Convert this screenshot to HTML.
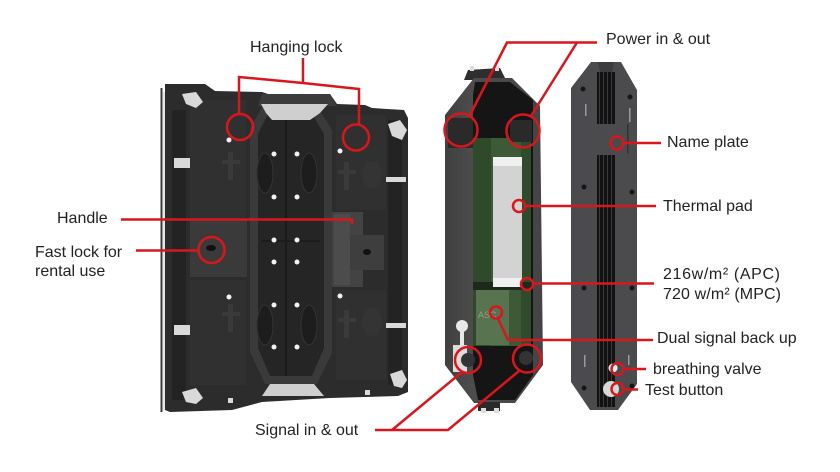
<!DOCTYPE html>
<html>
<head>
<meta charset="utf-8">
<style>
html,body{margin:0;padding:0;background:#fff;}
svg{display:block;}
text{font-family:"Liberation Sans",Arial,sans-serif;font-size:16px;fill:#222;}
</style>
</head>
<body>
<svg width="840" height="472" viewBox="0 0 840 472" xmlns="http://www.w3.org/2000/svg">
<defs>
  <pattern id="fins" x="0" y="0" width="4" height="10" patternUnits="userSpaceOnUse">
    <rect width="4" height="10" fill="#121212"/>
    <rect x="3" width="1" height="10" fill="#3a3a3a"/>
  </pattern>
  <linearGradient id="shell" x1="0" x2="1" y1="0" y2="0">
    <stop offset="0" stop-color="#3f3f40"/>
    <stop offset="0.3" stop-color="#4d4d4e"/>
    <stop offset="1" stop-color="#444446"/>
  </linearGradient>
</defs>
<rect width="840" height="472" fill="#fff"/>

<!-- ================= LEFT CABINET ================= -->
<g>
  <line x1="161.5" y1="88" x2="161.5" y2="412" stroke="#3a3a3a" stroke-width="2"/>
  <rect x="163" y="92" width="5" height="318" fill="#e6e6e6"/>
  <polygon points="165,84 205,84 215,91 262,92 268,94 330,94 337,104 365,105 372,108 404,110 408,118 408,392 398,396 330,398 262,402 232,410 170,412 165,410" fill="#2c2c2c"/>
  <!-- left zone recesses -->
  <rect x="172" y="110" width="14" height="290" fill="#232323"/>
  <rect x="190" y="100" width="56" height="120" fill="#303030"/>
  <rect x="190" y="280" width="56" height="105" fill="#303030"/>
  <!-- right zone -->
  <rect x="336" y="115" width="50" height="95" fill="#303030"/>
  <rect x="336" y="290" width="50" height="90" fill="#303030"/>
  <rect x="388" y="120" width="14" height="265" fill="#232323"/>
  <!-- T mounts -->
  <g fill="#3a3a3a">
    <rect x="222" y="160" width="18" height="4"/><rect x="228" y="152" width="5" height="28"/>
    <rect x="222" y="312" width="18" height="4"/><rect x="228" y="304" width="5" height="28"/>
    <rect x="338" y="170" width="18" height="4"/><rect x="344" y="162" width="5" height="28"/>
    <rect x="338" y="318" width="18" height="4"/><rect x="344" y="310" width="5" height="28"/>
    <ellipse cx="372" cy="175" rx="10" ry="14" fill="#343434"/>
    <ellipse cx="372" cy="322" rx="10" ry="14" fill="#343434"/>
  </g>
  <!-- top frame bar -->
  <polygon points="262,94 330,94 337,106 258,106" fill="#3b3b3b"/>
  <!-- spine -->
  <polygon points="263,106 317,106 332,130 332,353 317,384 265,384 250,352 250,128" fill="#3a3a3a"/>
  <polygon points="268,114 312,114 324,134 324,348 312,376 270,376 258,348 258,134" fill="#252525"/>
  <rect x="285" y="114" width="2" height="262" fill="#1a1a1a"/>
  <rect x="262" y="240" width="58" height="2" fill="#1c1c1c"/>
  <!-- ovals -->
  <g fill="#1d1d1d" stroke="#333" stroke-width="1">
    <ellipse cx="265" cy="173" rx="8" ry="20"/>
    <ellipse cx="309" cy="173" rx="8" ry="20"/>
    <ellipse cx="265" cy="325" rx="8" ry="20"/>
    <ellipse cx="309" cy="325" rx="8" ry="20"/>
  </g>
  <!-- brackets -->
  <polygon points="261,104 328,104 320,113 310,120 272,120 266,113" fill="#cfcfcf"/>
  <polygon points="262,396 270,384 314,384 324,396" fill="#cfcfcf"/>
  <!-- handle plates -->
  <rect x="190" y="220" width="57" height="57" fill="#3a3a3a"/>
  <rect x="332" y="212" width="31" height="75" fill="#434343"/>
  <rect x="334" y="214" width="16" height="71" fill="#4c4c4c"/>
  <rect x="350" y="235" width="34" height="35" fill="#3e3e3e"/>
  <ellipse cx="211" cy="248" rx="5" ry="3" fill="#111"/>
  <ellipse cx="367" cy="252" rx="4" ry="3" fill="#111"/>
  <!-- white corner brackets -->
  <g fill="#d9d9d9">
    <polygon points="182,94 196,92 203,102 196,108 186,104"/>
    <polygon points="388,124 400,120 407,130 402,140 392,136"/>
    <polygon points="182,392 196,388 203,398 196,404 186,402"/>
    <polygon points="390,374 402,370 407,380 402,388 394,386"/>
    <rect x="174" y="158" width="16" height="10"/>
    <rect x="174" y="325" width="16" height="10"/>
    <rect x="386" y="177" width="20" height="5"/>
    <rect x="386" y="323" width="20" height="5"/>
    <rect x="228" y="398" width="5" height="5"/>
    <rect x="365" y="390" width="5" height="5"/>
  </g>
  <!-- white dots -->
  <g fill="#f2f2f2">
    <circle cx="274" cy="154" r="2.5"/><circle cx="297" cy="154" r="2.5"/>
    <circle cx="274" cy="197" r="2.5"/><circle cx="297" cy="197" r="2.5"/>
    <circle cx="274" cy="240" r="2.5"/><circle cx="297" cy="240" r="2.5"/>
    <circle cx="274" cy="262" r="2.5"/><circle cx="297" cy="262" r="2.5"/>
    <circle cx="274" cy="305" r="2.5"/><circle cx="297" cy="305" r="2.5"/>
    <circle cx="274" cy="347" r="2.5"/><circle cx="297" cy="347" r="2.5"/>
    <circle cx="229" cy="140" r="2.5"/><circle cx="340" cy="151" r="2.5"/>
    <circle cx="229" cy="297" r="2.5"/><circle cx="340" cy="296" r="2.5"/>
  </g>
</g>

<!-- ================= MIDDLE MODULE ================= -->
<g>
  <polygon points="468,70 500,68 506,80 464,80" fill="#2e2e2e"/>
  <rect x="470" y="66" width="4" height="5" fill="#ddd"/>
  <rect x="495" y="66" width="4" height="5" fill="#ddd"/>
  <polygon points="474,78 512,78 540,106 543,365 515,403 474,403 445,365 445,115" fill="url(#shell)"/>
  <polygon points="475,82 510,82 533,100 533,375 515,400 478,400 473,375 473,95" fill="#151515"/>
  <!-- green pcb -->
  <rect x="473" y="138" width="58" height="208" fill="#3d5a37"/>
  <rect x="473" y="138" width="18" height="208" fill="#2f4a2b"/>
  <rect x="521" y="138" width="10" height="208" fill="#304b2c"/>
  <rect x="476" y="290" width="33" height="55" fill="#577350"/>
  <text x="478" y="318" style="font-size:9px;fill:#8fa586">ASC</text>
  <rect x="473" y="282" width="58" height="8" fill="#1d2a1b"/>
  <!-- thermal pad -->
  <rect x="493" y="157" width="29" height="130" fill="#d3d3d3"/>
  <rect x="493" y="157" width="29" height="9" fill="#f0f0f0"/>
  <rect x="493" y="278" width="29" height="9" fill="#f0f0f0"/>
  <!-- top dark blocks -->
  <rect x="448" y="118" width="25" height="30" fill="#2a2a2a"/>
  <rect x="510" y="120" width="22" height="22" fill="#2a2a2a"/>
  <!-- lower left white connector -->
  <circle cx="462" cy="326" r="6" fill="#e8e8e8"/>
  <rect x="460" y="330" width="4" height="16" fill="#e8e8e8"/>
  <rect x="453" y="345" width="14" height="27" fill="#dcdcdc"/>
  <circle cx="468" cy="360" r="7" fill="#333"/>
  <circle cx="526" cy="358" r="7" fill="#333"/>
  <!-- feet -->
  <rect x="478" y="402" width="22" height="9" fill="#2a2a2a"/>
  <rect x="481" y="408" width="5" height="5" fill="#ddd"/>
  <rect x="494" y="408" width="5" height="5" fill="#ddd"/>
</g>

<!-- ================= RIGHT COVER ================= -->
<g>
  <polygon points="591,62 621,62 637,90 637,384 618,410 590,410 571,382 571,88" fill="#4b4b4d"/>
  <polygon points="598,62 614,62 612,72 600,72" fill="#3c3c3e"/>
  <rect x="597" y="72" width="18" height="52" fill="url(#fins)"/>
  <rect x="597" y="155" width="18" height="252" fill="url(#fins)"/>
  <rect x="627" y="124" width="1.5" height="30" fill="#333"/>
  <g fill="#161616">
    <circle cx="583" cy="89" r="2.5"/><circle cx="630" cy="97" r="2.5"/>
    <circle cx="584" cy="187" r="2.5"/><circle cx="632" cy="192" r="2.5"/>
    <circle cx="584" cy="288" r="2.5"/><circle cx="632" cy="288" r="2.5"/>
    <circle cx="584" cy="388" r="2.5"/><circle cx="632" cy="386" r="2.5"/>
  </g>
  <g fill="#9a9a9a">
    <rect x="585" y="104" width="1.5" height="12"/>
    <rect x="629" y="108" width="1.5" height="14"/>
    <rect x="584" y="355" width="1.5" height="12"/>
    <rect x="628" y="355" width="1.5" height="10"/>
  </g>
  <circle cx="613" cy="368" r="4.5" fill="#f0f0f0"/>
  <circle cx="611" cy="389" r="8" fill="#d8d8d8"/>
</g>

<!-- ================= RED ANNOTATIONS ================= -->
<g fill="none" stroke="#d9161c" stroke-width="2.5" stroke-linejoin="miter">
  <!-- Hanging lock -->
  <line x1="303" y1="58" x2="303" y2="83"/>
  <polyline points="239,114 239,77 303,83 359,89 359,124"/>
  <circle cx="240" cy="127" r="13"/>
  <circle cx="356" cy="137.5" r="13"/>
  <!-- Handle -->
  <polyline points="121,219.5 352,219.5 352,224"/>
  <!-- Fast lock -->
  <line x1="136" y1="250.5" x2="198" y2="250.5"/>
  <circle cx="211.5" cy="250" r="13"/>
  <!-- Power in & out -->
  <polyline points="597,42.5 507,42.5 470,115"/>
  <line x1="577" y1="42.5" x2="531" y2="116"/>
  <circle cx="461" cy="130" r="16.5"/>
  <circle cx="523" cy="131" r="16.5"/>
  <!-- Name plate -->
  <circle cx="617" cy="143" r="6.5"/>
  <line x1="623.5" y1="143" x2="661" y2="143"/>
  <!-- Thermal pad -->
  <circle cx="519" cy="206" r="6"/>
  <line x1="525" y1="206" x2="656" y2="206"/>
  <!-- 216 -->
  <circle cx="527" cy="284" r="6"/>
  <line x1="533" y1="283.5" x2="654" y2="283.5"/>
  <!-- Dual signal -->
  <circle cx="496" cy="312.5" r="6"/>
  <polyline points="498,318.5 508,340 653,340"/>
  <!-- breathing valve -->
  <circle cx="617.5" cy="369" r="6"/>
  <line x1="623.5" y1="369" x2="646" y2="369"/>
  <!-- Test button -->
  <circle cx="617.5" cy="389" r="6"/>
  <line x1="623.5" y1="389.5" x2="638" y2="389.5"/>
  <!-- Signal in & out -->
  <polyline points="375,430 448,430 519,371"/>
  <line x1="392" y1="430" x2="462" y2="372"/>
  <circle cx="468" cy="360" r="13"/>
  <circle cx="527" cy="358.5" r="14"/>
</g>

<!-- ================= LABELS ================= -->
<text x="250" y="52">Hanging lock</text>
<text x="606" y="44">Power in &amp; out</text>
<text x="667" y="147">Name plate</text>
<text x="663" y="211">Thermal pad</text>
<text x="663" y="279" textLength="117" lengthAdjust="spacing">216w/m²  (APC)</text>
<text x="663" y="299" textLength="118" lengthAdjust="spacing">720 w/m² (MPC)</text>
<text x="657" y="343">Dual signal back up</text>
<text x="653" y="374">breathing valve</text>
<text x="645" y="395">Test button</text>
<text x="57" y="223">Handle</text>
<text x="35" y="257">Fast lock for</text>
<text x="35" y="276">rental use</text>
<text x="255" y="435">Signal in &amp; out</text>
</svg>
</body>
</html>
